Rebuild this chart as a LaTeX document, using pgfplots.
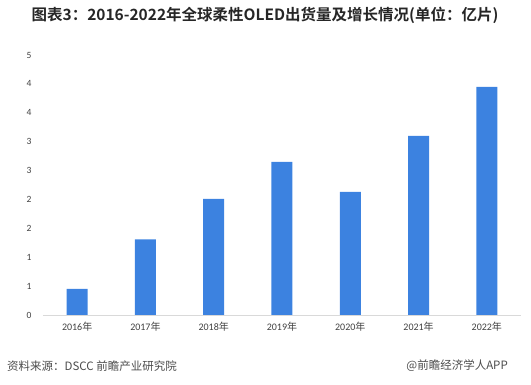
\documentclass[border=0pt]{standalone}
\usepackage{pgfplots}
\pgfplotsset{compat=1.18}
\usepackage{fontspec}
\setmainfont{Carlito}
\newfontfamily\cjk[BoldFont={Noto Sans CJK SC Bold}]{Noto Sans CJK SC}
\definecolor{barblue}{HTML}{3C82E0}
\definecolor{txt}{HTML}{404040}
\begin{document}
\begin{tikzpicture}[x=1pt,y=1pt]
\path (0,0) rectangle (531,385);
\begin{axis}[
  at={(43pt,70pt)}, anchor=south west,
  scale only axis, width=478pt, height=260pt,
  xmin=-0.5, xmax=6.5, ymin=0, ymax=4.5,
  axis x line=bottom, axis y line=left,
  x axis line style={draw=black!15, -, line width=0.8pt},
  y axis line style={draw=none},
  major tick length=0pt,
  xtick={0,...,6},
  xticklabels={2016{\cjk 年},2017{\cjk 年},2018{\cjk 年},2019{\cjk 年},2020{\cjk 年},2021{\cjk 年},2022{\cjk 年}},
  ytick={0,0.5,1,1.5,2,2.5,3,3.5,4,4.5},
  yticklabels={0,1,1,2,2,3,3,4,4,5},
  /pgf/number format/assume math mode=true,
  xticklabel style={font=\fontsize{10}{12}\selectfont, text=txt, yshift=-4pt},
  yticklabel style={font=\fontsize{9.5}{11}\selectfont, text=txt, xshift=-8pt},
  ybar, bar width=21pt,
]
\addplot[fill=barblue, draw=none] coordinates {(0,0.45) (1,1.31) (2,2.01) (3,2.65) (4,2.13) (5,3.10) (6,3.95)};
\end{axis}
\node[text=black!85] at (265,370) {\cjk\bfseries\fontsize{15.5}{18}\selectfont 图表3：2016-2022年全球柔性OLED出货量及增长情况(单位：亿片)};
\node[anchor=west, text=black!70, inner sep=0] at (7,19) {\cjk\fontsize{11.5}{13}\selectfont 资料来源：DSCC 前瞻产业研究院};
\node[anchor=east, text=black!70, inner sep=0] at (508,19) {\cjk\fontsize{11.5}{13}\selectfont @前瞻经济学人APP};
\end{tikzpicture}
\end{document}
